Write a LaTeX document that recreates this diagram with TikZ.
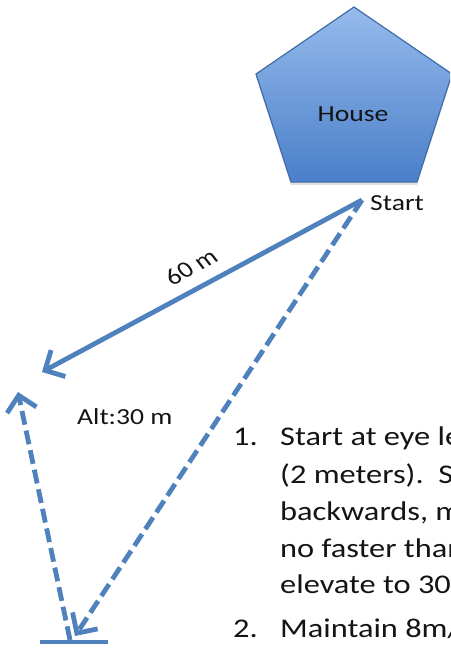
\documentclass[tikz,border=0pt]{standalone}
\usepackage{fontspec}
\setmainfont{Carlito}
\usetikzlibrary{arrows.meta,shadows}
\definecolor{lineblue}{RGB}{79,129,189}
\definecolor{housetop}{RGB}{150,187,236}
\definecolor{housebot}{RGB}{74,127,201}
\definecolor{houseedge}{RGB}{65,108,168}
\definecolor{txt}{RGB}{20,20,20}
\newcommand{\wide}[1]{\scalebox{1.2}[1]{#1}}
\begin{document}
\begin{tikzpicture}[x=1pt,y=-1pt,
  conn/.style={draw=lineblue, line width=4.8pt},
  tipbarb/.style={-{Straight Barb[length=15pt,width=30pt]}},
  dashline/.style={dash pattern=on 14pt off 6pt},
  lbl/.style={inner sep=0pt, anchor=base west, text=txt, font=\fontsize{23}{28}\selectfont},
  listtxt/.style={inner sep=0pt, anchor=base west, text=txt, font=\fontsize{27}{33}\selectfont},
  housestyle/.style={draw=houseedge, line width=1.2pt, top color=housetop, bottom color=housebot,
    drop shadow={opacity=0.25, shadow xshift=0pt, shadow yshift=-3pt}}
]
\useasboundingbox (0,0) rectangle (450,648);
\clip (0,0) rectangle (450,648);
\fill[white] (0,0) rectangle (450,648);

% house
\path[housestyle] (354,7) -- (452,74) -- (417,182) -- (291,182) -- (256,74) -- cycle;
\node[lbl, anchor=base] (house) at (353,121) {\wide{House}};
\node[lbl] (startlbl) at (370,210) {\wide{Start}};

% points
\coordinate (start) at (362,200);
\coordinate (turn) at (42,372);
\coordinate (up) at (18,392);
\coordinate (land) at (75,636);
\coordinate (base) at (70,640);
\coordinate (barL) at (40,642);
\coordinate (barR) at (108,642);

% connectors
\draw[conn, tipbarb] (start) -- (turn);
\draw[conn, tipbarb, dashline] (start) -- (land);
\draw[conn, tipbarb, dashline] (base) -- (up);
\draw[conn] (barL) -- (barR);

% labels
\node[lbl, anchor=center] (sixty) at (191,267) {\wide{\rotatebox{32.8}{60 m}}};
\node[lbl] (alt) at (77,424) {\wide{Alt:30 m}};

% list
\node[listtxt] (n1) at (233,445) {\wide{1.}};
\node[listtxt] (l1) at (280,445) {\wide{Start at eye level}};
\node[listtxt] (l2) at (280,483) {\wide{(2 meters).\ \ Step}};
\node[listtxt] (l3) at (280,520) {\wide{backwards, moving}};
\node[listtxt] (l4) at (280,557) {\wide{no faster than}};
\node[listtxt] (l5) at (280,593) {\wide{elevate to 30 m}};
\node[listtxt] (n2) at (233,637) {\wide{2.}};
\node[listtxt] (l6) at (280,637) {\wide{Maintain 8m/s}};
\end{tikzpicture}
\end{document}
